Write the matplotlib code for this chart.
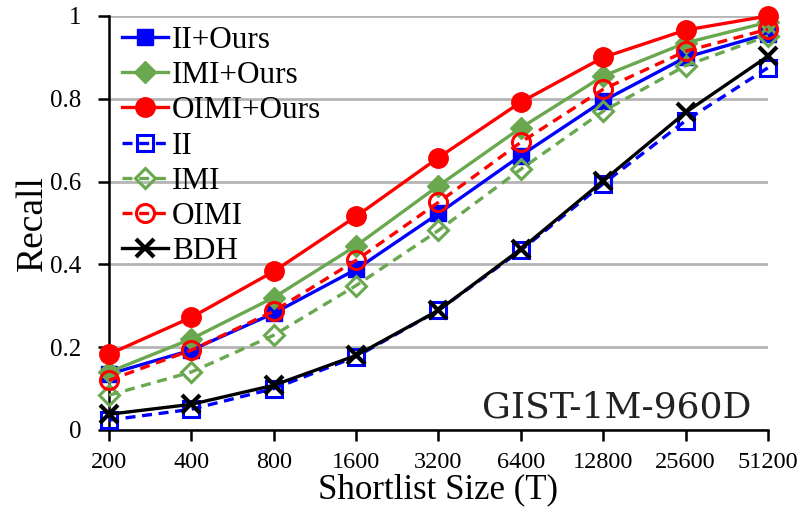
import matplotlib
matplotlib.use("Agg")
import matplotlib.pyplot as plt

shortlist = ["200", "400", "800", "1600", "3200", "6400", "12800", "25600", "51200"]

ii_ours   = [0.135, 0.193, 0.282, 0.388, 0.523, 0.663, 0.795, 0.900, 0.957]
imi_ours  = [0.140, 0.220, 0.320, 0.445, 0.590, 0.730, 0.855, 0.935, 0.985]
oimi_ours = [0.183, 0.272, 0.383, 0.516, 0.658, 0.792, 0.900, 0.966, 1.000]
ii        = [0.024, 0.050, 0.100, 0.177, 0.289, 0.434, 0.595, 0.747, 0.875]
imi       = [0.084, 0.140, 0.229, 0.349, 0.482, 0.630, 0.770, 0.880, 0.952]
oimi      = [0.120, 0.193, 0.287, 0.410, 0.550, 0.695, 0.823, 0.915, 0.968]
bdh       = [0.038, 0.062, 0.108, 0.180, 0.289, 0.437, 0.602, 0.767, 0.903]

y_ticks = [0, 0.2, 0.4, 0.6, 0.8, 1.0]
y_tick_labels = ["0", "0.2", "0.4", "0.6", "0.8", "1"]

serif = ["Liberation Serif", "DejaVu Serif"]
plt.rcParams["font.family"] = serif

fig = plt.figure(figsize=(8.10, 5.16), dpi=100)
ax = fig.add_axes([0.1346, 0.1667, 0.8135, 0.8023])

xs = list(range(len(shortlist)))
blue, green, red = "#0000ff", "#6aa84f", "#ff0000"
lw = 2.4

series = [
    ("II+Ours",   ii_ours,   dict(color=blue,  ls="-",  marker="s", ms=12, mfc=blue)),
    ("IMI+Ours",  imi_ours,  dict(color=green, ls="-",  marker="D", ms=11, mfc=green)),
    ("OIMI+Ours", oimi_ours, dict(color=red,   ls="-",  marker="o", ms=14, mfc=red)),
    ("II",        ii,        dict(color=blue,  ls="--", marker="s", ms=12, mfc="none", mew=2.2)),
    ("IMI",       imi,       dict(color=green, ls="--", marker="D", ms=10, mfc="none", mew=2.2)),
    ("OIMI",      oimi,      dict(color=red,   ls="--", marker="o", ms=13, mfc="none", mew=2.2)),
    ("BDH",       bdh,       dict(color="black", ls="-", marker="x", ms=13, mew=3)),
]

for label, vals, style in series:
    ax.plot(xs, vals, label=label, lw=lw, clip_on=False, zorder=3,
            dashes=(3, 2) if style["ls"] == "--" else (None, None), **style)

ax.set_xlim(0, len(shortlist) - 1)
ax.set_ylim(0, 1)
ax.set_xticks(xs)
ax.set_xticklabels(shortlist, fontsize=17.5)
ax.set_yticks(y_ticks)
ax.set_yticklabels(y_tick_labels, fontsize=18)

ax.grid(axis="y", color="#b4b4b4", lw=2)
ax.set_axisbelow(True)
for s in ("top", "right"):
    ax.spines[s].set_visible(False)
ax.spines["left"].set_linewidth(1.8)
ax.spines["bottom"].set_linewidth(1.8)
ax.tick_params(axis="x", direction="out", length=8, width=1.8, pad=8)
ax.tick_params(axis="y", direction="out", length=8, width=1.8, pad=12)

ax.set_ylabel("Recall", fontsize=27, labelpad=0)
ax.set_xlabel("Shortlist Size (T)", fontsize=25, labelpad=0)

ax.text(0.975, 0.03, "GIST-1M-960D", transform=ax.transAxes, ha="right", va="baseline",
        fontsize=26, family=["DejaVu Serif"], color="#222222")

leg = ax.legend(loc="upper left", frameon=False, fontsize=22.5, handlelength=1.45,
                handletextpad=0.15, labelspacing=0.2, borderaxespad=0.0,
                borderpad=0.0, bbox_to_anchor=(0.02, 0.976))

fig.savefig("out.png", dpi=100)
